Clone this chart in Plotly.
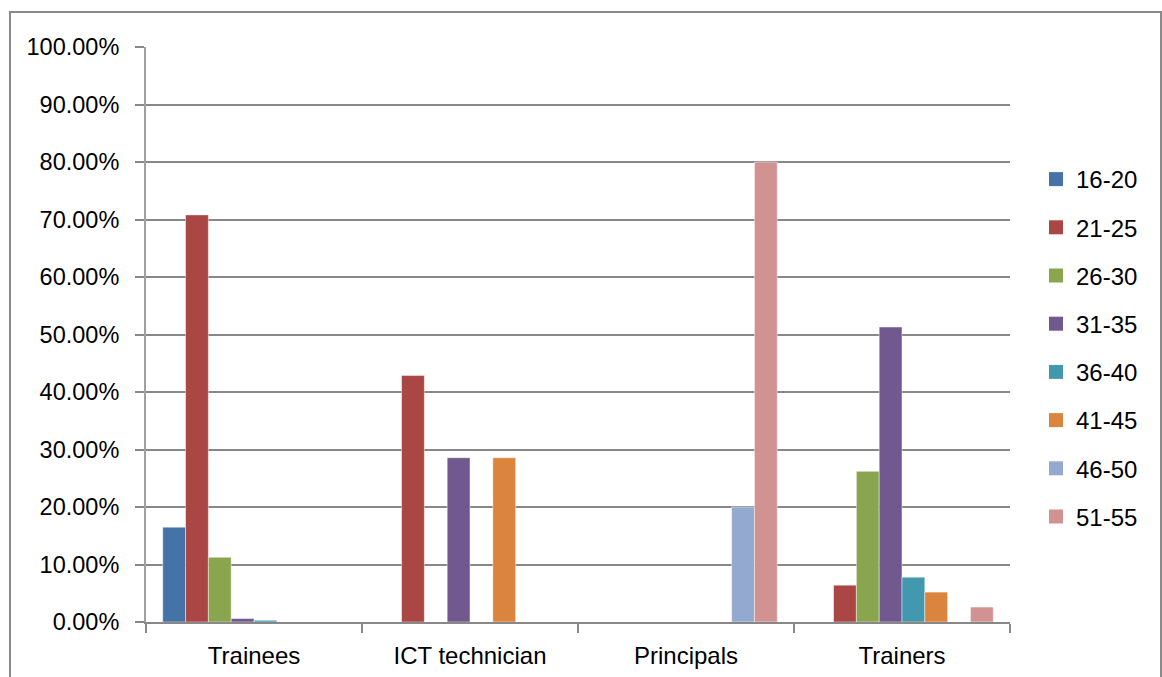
import plotly.graph_objects as go

categories = ["Trainees", "ICT technician", "Principals", "Trainers"]
age_groups = ["16-20", "21-25", "26-30", "31-35", "36-40", "41-45", "46-50", "51-55"]

# share of respondents per age group, one list per group (order follows categories)
age_16_20 = [0.165, 0.0, 0.0, 0.0]
age_21_25 = [0.708, 0.4286, 0.0, 0.064]
age_26_30 = [0.1125, 0.0, 0.0, 0.262]
age_31_35 = [0.006, 0.2857, 0.0, 0.513]
age_36_40 = [0.003, 0.0, 0.0, 0.078]
age_41_45 = [0.0, 0.2857, 0.0, 0.052]
age_46_50 = [0.0, 0.0, 0.20, 0.0]
age_51_55 = [0.0, 0.0, 0.80, 0.026]

series = [age_16_20, age_21_25, age_26_30, age_31_35,
          age_36_40, age_41_45, age_46_50, age_51_55]
colors = ["#4572A7", "#AA4643", "#89A54E", "#71588F",
          "#4198AF", "#DB843D", "#93A9CF", "#D19392"]

W, H = 1162, 677
L, R, T, B = 146, 1010, 47, 622
pw, ph = R - L, B - T

fig = go.Figure()
for name, vals, col in zip(age_groups, series, colors):
    fig.add_trace(go.Bar(
        x=categories, y=vals, name=name, legendgroup=name, showlegend=False,
        marker=dict(color=col, line=dict(color="rgba(255,255,255,0.45)", width=1)),
    ))
    # legend entry with a larger square swatch
    fig.add_trace(go.Scatter(
        x=[None], y=[None], mode="markers", name=name, legendgroup=name,
        marker=dict(symbol="square", size=14, color=col, line=dict(width=0)),
        hoverinfo="skip",
    ))

font_family = "Liberation Sans, Arial, sans-serif"
grid_col = "#888888"

fig.update_layout(
    width=W, height=H,
    margin=dict(l=L, r=W - R, t=T, b=H - B, pad=0, autoexpand=False),
    paper_bgcolor="white", plot_bgcolor="white",
    barmode="group", bargap=0.155, bargroupgap=0,
    font=dict(family=font_family, color="black"),
    showlegend=True,
    legend=dict(
        x=(1036 - L) / pw, xanchor="left",
        y=(B - 157) / ph, yanchor="top",
        font=dict(size=24, family=font_family),
        tracegroupgap=14, itemsizing="trace",
        bgcolor="rgba(0,0,0,0)",
    ),
    xaxis=dict(
        showline=True, linecolor=grid_col, linewidth=2,
        ticks="outside", tickson="boundaries", ticklen=9, tickcolor=grid_col, tickwidth=2,
        tickfont=dict(size=24), showgrid=False, ticklabelstandoff=11, automargin=False,
    ),
    yaxis=dict(
        range=[0, 1], dtick=0.1, tickformat=".2%",
        showline=True, linecolor="#a0a0a0", linewidth=2,
        ticks="outside", ticklen=9, tickcolor=grid_col, tickwidth=2,
        showgrid=True, gridcolor=grid_col, gridwidth=2,
        zeroline=False, tickfont=dict(size=23.5), ticklabelstandoff=11, automargin=False,
    ),
)

# outer chart frame
fig.add_shape(
    type="rect", xref="paper", yref="paper",
    x0=(10 - L) / pw, x1=(1161 - L) / pw,
    y0=(B - 700) / ph, y1=(B - 12) / ph,
    line=dict(color="#8a8a8a", width=2), fillcolor="rgba(0,0,0,0)", layer="below",
)

fig.write_html("out.html")
